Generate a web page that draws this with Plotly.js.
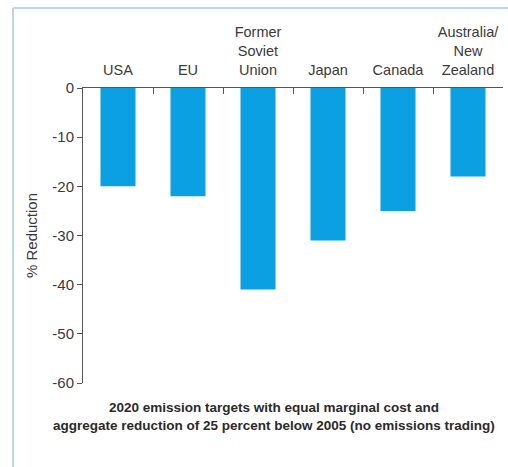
<!DOCTYPE html>
<html>
<head>
<meta charset="utf-8">
<script src="https://cdn.plot.ly/plotly-3.0.1.min.js"></script>
<style>
html,body{margin:0;padding:0;background:#fff;}
#chart{width:508px;height:467px;}
</style>
</head>
<body>
<div id="chart"></div>
<script>
const categories = ["USA", "EU", "Former<br>Soviet<br>Union", "Japan", "Canada", "Australia/<br>New<br>Zealand"];
const reductions = [-20, -22, -41, -31, -25, -18];
const yTicks = [0, -10, -20, -30, -40, -50, -60];
const yTickLabels = ["0", "-10", "-20", "-30", "-40", "-50", "-60"];
const yAxisTitle = "% Reduction";
const caption = "2020 emission targets with equal marginal cost and<br>aggregate reduction of 25 percent below 2005 (no emissions trading)";

const W = 508, H = 467;
const M = {l: 83, r: 5, t: 88, b: 84};
const pw = W - M.l - M.r, ph = H - M.t - M.b;
const px = v => (v - M.l) / pw;
const py = v => 1 - (v - M.t) / ph;

const fontFam = "Liberation Sans, Arial, sans-serif";

const trace = {
  type: "bar",
  x: categories,
  y: reductions,
  marker: {color: "#0aa0e2", line: {width: 0}},
  width: 0.5,
  hoverinfo: "x+y"
};

const layout = {
  width: W, height: H,
  margin: M,
  paper_bgcolor: "#ffffff",
  plot_bgcolor: "#ffffff",
  showlegend: false,
  font: {family: fontFam, size: 14, color: "#3a3a3a"},
  xaxis: {
    side: "top",
    type: "category",
    range: [-0.5, 5.5],
    tickangle: 0,
    showline: true, linecolor: "#555", linewidth: 1,
    ticks: "inside", ticklen: 6, tickcolor: "#555", tickwidth: 1,
    tickson: "boundaries",
    showgrid: false, zeroline: false,
    tickfont: {family: fontFam, size: 14.5, color: "#3a3a3a"},
    ticklabelstandoff: 6,
    automargin: false, fixedrange: true
  },
  yaxis: {
    range: [-60, 0],
    tickvals: yTicks, ticktext: yTickLabels,
    showline: true, linecolor: "#555", linewidth: 1,
    ticks: "outside", ticklen: 5, tickcolor: "#555", tickwidth: 1,
    showgrid: false, zeroline: false,
    tickfont: {family: fontFam, size: 15, color: "#3a3a3a"},
    title: {text: yAxisTitle, font: {family: fontFam, size: 15, color: "#3a3a3a"}, standoff: 11},
    automargin: false, fixedrange: true
  },
  shapes: [
    {type: "line", xref: "paper", yref: "paper", x0: px(13), x1: px(13), y0: py(8), y1: py(470),
     line: {color: "#b9d9ea", width: 2}},
    {type: "line", xref: "paper", yref: "paper", x0: px(13), x1: px(510), y0: py(8), y1: py(8),
     line: {color: "#b9d9ea", width: 2}}
  ],
  annotations: [
    {text: "<b>" + caption + "</b>", xref: "paper", yref: "paper",
     x: px(274), y: py(416), xanchor: "center", yanchor: "middle",
     showarrow: false, align: "center",
     font: {family: fontFam, size: 13.5, color: "#2a2a2a"}}
  ]
};

Plotly.newPlot("chart", [trace], layout, {displayModeBar: false, staticPlot: true});
</script>
</body>
</html>
